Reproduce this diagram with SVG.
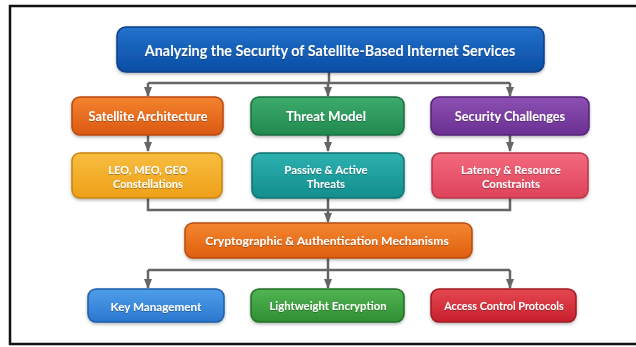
<svg xmlns="http://www.w3.org/2000/svg" width="636" height="347" viewBox="0 0 636 347">
  <defs>
    <linearGradient id="gBlue" x1="0" y1="0" x2="0" y2="1"><stop offset="0" stop-color="#2272cc"/><stop offset="1" stop-color="#0b4da4"/></linearGradient>
    <linearGradient id="gOrange" x1="0" y1="0" x2="0" y2="1"><stop offset="0" stop-color="#f5832f"/><stop offset="1" stop-color="#da5812"/></linearGradient>
    <linearGradient id="gGreen" x1="0" y1="0" x2="0" y2="1"><stop offset="0" stop-color="#3cab6c"/><stop offset="1" stop-color="#22894f"/></linearGradient>
    <linearGradient id="gPurple" x1="0" y1="0" x2="0" y2="1"><stop offset="0" stop-color="#8d50b3"/><stop offset="1" stop-color="#6a2f92"/></linearGradient>
    <linearGradient id="gYellow" x1="0" y1="0" x2="0" y2="1"><stop offset="0" stop-color="#f8bd40"/><stop offset="1" stop-color="#eea018"/></linearGradient>
    <linearGradient id="gTeal" x1="0" y1="0" x2="0" y2="1"><stop offset="0" stop-color="#2db1b0"/><stop offset="1" stop-color="#128e8d"/></linearGradient>
    <linearGradient id="gPink" x1="0" y1="0" x2="0" y2="1"><stop offset="0" stop-color="#f36a7d"/><stop offset="1" stop-color="#de425a"/></linearGradient>
    <linearGradient id="gCrypto" x1="0" y1="0" x2="0" y2="1"><stop offset="0" stop-color="#f5862f"/><stop offset="1" stop-color="#de5f0f"/></linearGradient>
    <linearGradient id="gSky" x1="0" y1="0" x2="0" y2="1"><stop offset="0" stop-color="#4f9eea"/><stop offset="1" stop-color="#2a77cf"/></linearGradient>
    <linearGradient id="gLime" x1="0" y1="0" x2="0" y2="1"><stop offset="0" stop-color="#52b452"/><stop offset="1" stop-color="#2e8f33"/></linearGradient>
    <linearGradient id="gRed" x1="0" y1="0" x2="0" y2="1"><stop offset="0" stop-color="#e5474f"/><stop offset="1" stop-color="#c71f2e"/></linearGradient>
    <filter id="shadow" x="-10%" y="-20%" width="120%" height="150%">
      <feDropShadow dx="0" dy="1.5" stdDeviation="1.5" flood-color="#000" flood-opacity="0.3"/>
    </filter>
    <filter id="tshadow" x="-5%" y="-30%" width="110%" height="160%">
      <feDropShadow dx="0" dy="0.8" stdDeviation="0.6" flood-color="#000" flood-opacity="0.35"/>
    </filter>
    <marker id="arrow" viewBox="0 0 10 8" refX="9" refY="4" markerWidth="10" markerHeight="8" markerUnits="userSpaceOnUse" orient="auto">
      <path d="M0,0 L10,4 L0,8 Z" fill="#666"/>
    </marker>
  </defs>
  <style>
    .box { filter: url(#shadow); stroke-width: 1.5; }
    .lbl { font-family: Lato, "Open Sans", "DejaVu Sans", sans-serif; font-weight: bold; fill: #fff; text-anchor: middle; dominant-baseline: central; filter: url(#tshadow); }
    .line { fill: none; stroke: #666; stroke-width: 2.5; }
  </style>

  <rect width="636" height="347" fill="#fff"/>
  <!-- outer frame -->
  <path d="M640,6 H10 V344 H640" fill="none" stroke="#111" stroke-width="2.5"/>

  <!-- connectors -->
  <g id="connectors">
    <path class="line" d="M329,72 V83 M148,83 H510"/>
    <path class="line" d="M148,83 V96" marker-end="url(#arrow)"/>
    <path class="line" d="M328,83 V96" marker-end="url(#arrow)"/>
    <path class="line" d="M510,83 V96" marker-end="url(#arrow)"/>

    <path class="line" d="M148,135 V151" marker-end="url(#arrow)"/>
    <path class="line" d="M328,135 V151" marker-end="url(#arrow)"/>
    <path class="line" d="M510,135 V151" marker-end="url(#arrow)"/>

    <path class="line" d="M148,198 V210 H510 V198"/>
    <path class="line" d="M328,198 V222" marker-end="url(#arrow)"/>

    <path class="line" d="M328,258 V270 M148,270 H510"/>
    <path class="line" d="M148,270 V288" marker-end="url(#arrow)"/>
    <path class="line" d="M328,270 V288" marker-end="url(#arrow)"/>
    <path class="line" d="M510,270 V288" marker-end="url(#arrow)"/>
  </g>

  <g id="title">
    <rect class="box" x="117" y="27" width="427" height="45" rx="9" fill="url(#gBlue)" stroke="#0a3f86"/>
    <text class="lbl" x="330" y="50" font-size="14.4">Analyzing the Security of Satellite-Based Internet Services</text>
  </g>

  <g id="satellite-architecture">
    <rect class="box" x="72" y="97" width="151" height="38" rx="8" fill="url(#gOrange)" stroke="#b8480e"/>
    <text class="lbl" x="148" y="116" font-size="12.7">Satellite Architecture</text>
  </g>
  <g id="threat-model">
    <rect class="box" x="251" y="97" width="153" height="38" rx="8" fill="url(#gGreen)" stroke="#1c6e40"/>
    <text class="lbl" x="326" y="116" font-size="13.3">Threat Model</text>
  </g>
  <g id="security-challenges">
    <rect class="box" x="431" y="97" width="158" height="38" rx="8" fill="url(#gPurple)" stroke="#552478"/>
    <text class="lbl" x="510" y="116" font-size="12.7">Security Challenges</text>
  </g>

  <g id="constellations">
    <rect class="box" x="72" y="153" width="150" height="45" rx="8" fill="url(#gYellow)" stroke="#c88410"/>
    <text class="lbl" x="148" y="169" font-size="11">LEO, MEO, GEO</text>
    <text class="lbl" x="148" y="183" font-size="11">Constellations</text>
  </g>
  <g id="threats">
    <rect class="box" x="252" y="153" width="152" height="45" rx="8" fill="url(#gTeal)" stroke="#0e7372"/>
    <text class="lbl" x="326" y="169" font-size="11.4">Passive &amp; Active</text>
    <text class="lbl" x="326" y="183" font-size="11.4">Threats</text>
  </g>
  <g id="constraints">
    <rect class="box" x="432" y="153" width="156" height="45" rx="8" fill="url(#gPink)" stroke="#b8344a"/>
    <text class="lbl" x="511" y="169" font-size="11.4">Latency &amp; Resource</text>
    <text class="lbl" x="511" y="183" font-size="11.4">Constraints</text>
  </g>

  <g id="crypto-auth">
    <rect class="box" x="185" y="223" width="287" height="35" rx="8" fill="url(#gCrypto)" stroke="#b84c0a"/>
    <text class="lbl" x="327" y="240.5" font-size="12.2">Cryptographic &amp; Authentication Mechanisms</text>
  </g>

  <g id="key-management">
    <rect class="box" x="88" y="289" width="136" height="33" rx="8" fill="url(#gSky)" stroke="#1e5ea8"/>
    <text class="lbl" x="156" y="305.5" font-size="11.7">Key Management</text>
  </g>
  <g id="lightweight-encryption">
    <rect class="box" x="251" y="289" width="153" height="33" rx="8" fill="url(#gLime)" stroke="#237026"/>
    <text class="lbl" x="328" y="305.5" font-size="11.3">Lightweight Encryption</text>
  </g>
  <g id="access-control">
    <rect class="box" x="431" y="289" width="145" height="33" rx="8" fill="url(#gRed)" stroke="#a01824"/>
    <text class="lbl" x="504" y="305.5" font-size="10.8">Access Control Protocols</text>
  </g>
</svg>
